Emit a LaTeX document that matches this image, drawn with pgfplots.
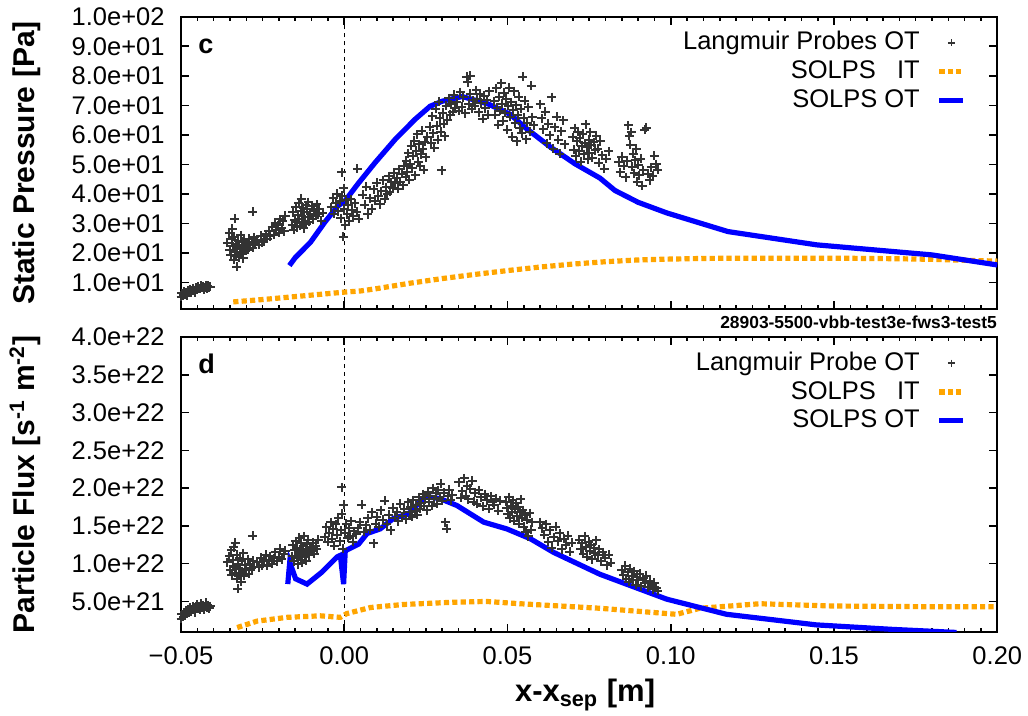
\documentclass[border=0pt]{standalone}
\usepackage{fontspec}
\setmainfont{Liberation Sans}
\usepackage{pgfplots}
\pgfplotsset{compat=1.18}
\definecolor{ptgray}{RGB}{51,51,51}
\definecolor{solblue}{RGB}{0,0,255}
\definecolor{solorange}{RGB}{255,165,0}
\pgfkeys{/pgfplots/linelegend/.style={legend image code/.code={\draw[##1] (0pt,0pt) -- (12pt,0pt);}}}
\pgfkeys{/pgfplots/marklegend/.style={legend image code/.code={\draw[##1,mark size=1.75pt,line width=0.8pt] plot coordinates {(6pt,0pt)};}}}
\pgfplotsset{
 panel/.style={
  scale only axis, width=408.15pt,
  xmin=-0.05, xmax=0.2,
  xtick={-0.05,0,0.05,0.1,0.15,0.2},
  minor x tick num=9,
  tick align=inside,
  major tick length=4pt, minor tick length=2pt,
  tick style={black, line width=0.8pt},
  axis line style={line width=1pt},
  ticklabel style={font=\fontsize{12.75}{14}\selectfont},
  yticklabel style={anchor=east, inner sep=0pt, xshift=-8pt},
  ylabel style={font=\bfseries\fontsize{15}{17}\selectfont, at={(axis description cs:-0.163,0.5)}, anchor=south},
  legend cell align=right,
  legend plot pos=right,
  legend style={at={(1,1)}, anchor=north east, xshift=-15.65pt, yshift=-7.1pt,
    draw=none, fill=none, inner sep=0pt, outer sep=0pt,
    font=\fontsize{12.75}{14}\selectfont,
    nodes={inner sep=0pt, text height=9.5pt, text depth=2.5pt},
    row sep=2.4pt, column sep=8.5pt},
 },
 pts/.style={only marks, mark=+, ptgray, mark size=2.25pt, line width=1pt, marklegend},
 solit/.style={solorange, line width=2.6pt, dash pattern=on 2.6pt off 1.6pt, linelegend},
 solot/.style={solblue, line width=2.6pt, linelegend},
 zline/.style={forget plot, black, line width=0.4pt, dash pattern=on 2pt off 2pt},
}
\begin{document}
\begin{tikzpicture}
\path[use as bounding box] (0,0) rectangle (514pt,358pt);
% ---------------- top panel ----------------
\begin{axis}[panel, name=top, at={(90.5pt,203.35pt)}, anchor=south west, height=146.3pt,
  ymin=1, ymax=100,
  ytick={10,20,30,40,50,60,70,80,90,100},
  yticklabels={1.0e+01,2.0e+01,3.0e+01,4.0e+01,5.0e+01,6.0e+01,7.0e+01,8.0e+01,9.0e+01,1.0e+02},
  xticklabels={},
  ylabel={Static Pressure {[}Pa{]}}]
\addplot[zline] coordinates {(0,1)(0,100)};
\addplot[pts] coordinates {
(-0.0500,5.2)(-0.0497,6.5)(-0.0493,5.8)(-0.0490,7.0)(-0.0487,6.1)(-0.0484,6.8)(-0.0481,5.6)(-0.0478,7.4)(-0.0475,6.6)(-0.0472,7.8)(-0.0469,6.9)(-0.0466,7.2)(-0.0463,8.1)(-0.0460,7.5)(-0.0457,6.8)(-0.0454,8.3)(-0.0451,7.7)(-0.0448,8.6)(-0.0445,7.9)(-0.0442,8.2)(-0.0439,9.0)(-0.0436,8.4)(-0.0433,8.8)(-0.0430,7.8)(-0.0427,8.5)(-0.0424,9.2)(-0.0421,8.1)(-0.0418,8.9)(-0.0414,8.4)(-0.0410,8.7)
(-0.0358,23.5)(-0.0352,26.8)(-0.0350,21.0)(-0.0347,19.5)(-0.0345,24.8)(-0.0343,28.2)(-0.0341,22.4)(-0.0339,17.8)(-0.0337,25.6)(-0.0335,20.3)(-0.0333,23.1)(-0.0331,19.0)(-0.0329,15.4)(-0.0327,21.8)(-0.0325,24.2)(-0.0323,18.6)(-0.0321,22.9)(-0.0319,20.1)(-0.0317,26.0)(-0.0315,19.7)(-0.0313,23.8)(-0.0311,21.5)(-0.0309,18.3)(-0.0307,24.6)(-0.0305,22.0)(-0.0302,20.8)(-0.0299,23.4)(-0.0296,21.2)(-0.0292,24.9)(-0.0288,22.6)(-0.0284,23.9)(-0.0280,21.9)(-0.0276,25.3)(-0.0272,23.5)(-0.0336,31.6)(-0.0281,34.0)
(-0.0266,24.5)(-0.0261,22.8)(-0.0256,25.9)(-0.0251,23.6)(-0.0246,24.1)(-0.0241,26.4)(-0.0236,24.8)(-0.0231,27.5)(-0.0226,25.7)(-0.0221,28.9)(-0.0216,26.3)(-0.0212,30.2)(-0.0208,27.8)(-0.0204,29.4)(-0.0200,26.9)(-0.0196,31.5)(-0.0192,28.6)(-0.0188,30.8)(-0.0184,27.4)(-0.0180,32.6)
(-0.0160,29.5)(-0.0157,33.8)(-0.0154,27.9)(-0.0151,31.2)(-0.0148,35.6)(-0.0146,30.4)(-0.0144,28.7)(-0.0142,33.0)(-0.0140,36.9)(-0.0138,31.7)(-0.0136,29.2)(-0.0134,34.4)(-0.0132,38.4)(-0.0130,32.5)(-0.0128,30.1)(-0.0126,35.3)(-0.0124,28.4)(-0.0122,33.9)(-0.0120,31.0)(-0.0118,36.2)(-0.0116,29.8)(-0.0114,34.8)(-0.0112,32.2)(-0.0110,37.3)(-0.0107,30.6)(-0.0104,33.4)(-0.0100,35.8)(-0.0096,31.5)(-0.0092,34.1)(-0.0088,32.7)(-0.0084,36.5)(-0.0080,33.2)(-0.0076,35.0)(-0.0071,30.9)(-0.0066,33.7)
(-0.0040,35.5)(-0.0034,38.7)(-0.0030,33.4)(-0.0026,36.8)(-0.0022,40.1)(-0.0018,34.2)(-0.0014,37.6)(-0.0010,31.8)(-0.0006,39.4)(-0.0003,25.6)(-0.0002,42.0)(0.0000,35.0)(0.0003,29.5)(0.0006,37.9)(0.0009,33.1)(0.0012,36.3)(0.0016,31.0)(0.0020,38.2)(0.0024,34.6)(0.0028,32.4)(0.0032,36.9)(0.0038,34.0)(0.0044,31.6)(-0.0008,47.3)(0.0040,48.5)
(0.0056,39.8)(0.0062,36.4)(0.0068,42.5)(0.0072,33.1)(0.0078,38.6)(0.0084,35.0)(0.0090,41.7)(0.0094,37.8)(0.0100,43.9)(0.0104,39.2)(0.0110,36.5)(0.0114,41.0)(0.0120,44.7)(0.0124,38.4)(0.0128,42.3)(0.0132,39.9)(0.0136,46.1)(0.0140,40.8)(0.0144,44.0)(0.0148,42.1)(0.0152,47.2)(0.0156,43.6)(0.0160,45.5)(0.0164,41.8)(0.0168,48.4)(0.0172,44.2)(0.0176,46.8)(0.0180,43.0)(0.0184,49.6)(0.0188,45.9)
(0.0190,51.3)(0.0193,47.5)(0.0196,53.8)(0.0199,44.9)(0.0202,50.2)(0.0205,56.4)(0.0208,48.7)(0.0211,52.9)(0.0214,58.1)(0.0217,46.3)(0.0220,54.6)(0.0223,60.2)(0.0226,51.0)(0.0229,56.9)(0.0232,49.4)(0.0235,53.5)(0.0238,61.4)(0.0241,55.2)(0.0244,48.2)(0.0247,57.7)(0.0250,52.4)(0.0254,59.3)
(0.0262,62.8)(0.0266,57.3)(0.0270,66.4)(0.0273,60.5)(0.0276,55.6)(0.0280,68.9)(0.0283,63.1)(0.0286,58.4)(0.0289,71.2)(0.0292,65.7)(0.0295,61.0)(0.0298,48.0)(0.0301,67.5)(0.0304,63.8)(0.0308,59.6)(0.0312,69.8)(0.0316,65.0)(0.0320,72.4)(0.0324,66.9)(0.0328,70.3)(0.0332,67.8)(0.0336,73.6)(0.0340,69.1)
(0.0345,71.0)(0.0350,68.2)(0.0355,74.5)(0.0360,69.6)(0.0365,72.8)(0.0370,67.4)(0.0375,79.6)(0.0378,77.8)(0.0382,70.5)(0.0386,73.9)(0.0390,68.8)(0.0395,71.7)(0.0400,69.9)(0.0404,75.2)(0.0408,72.1)(0.0412,67.6)(0.0416,74.0)(0.0420,70.8)(0.0424,65.4)(0.0428,73.3)(0.0432,69.0)(0.0436,71.9)(0.0440,66.8)(0.0444,74.7)(0.0386,80.0)
(0.0460,71.4)(0.0463,66.9)(0.0466,75.8)(0.0469,69.2)(0.0472,63.5)(0.0475,73.0)(0.0478,68.1)(0.0481,77.4)(0.0484,70.6)(0.0487,64.8)(0.0490,74.3)(0.0493,67.5)(0.0496,72.2)(0.0499,61.7)(0.0502,69.8)(0.0505,75.9)(0.0508,66.2)(0.0511,71.0)(0.0514,59.4)(0.0517,68.4)(0.0520,74.8)(0.0523,63.9)(0.0526,70.1)(0.0529,57.8)(0.0532,66.6)(0.0535,72.9)(0.0538,62.3)(0.0541,68.9)(0.0544,60.5)(0.0547,79.7)(0.0550,65.8)(0.0553,71.5)(0.0557,58.6)(0.0560,64.2)(0.0564,69.4)(0.0568,61.1)(0.0572,76.6)(0.0576,66.0)(0.0580,63.2)
(0.0600,70.4)(0.0605,65.6)(0.0610,61.9)(0.0615,67.8)(0.0620,57.2)(0.0625,63.7)(0.0630,59.9)(0.0635,72.8)(0.0640,55.4)(0.0645,62.6)(0.0650,66.1)(0.0655,58.3)(0.0660,53.6)(0.0665,61.2)(0.0670,64.9)(0.0675,56.8)
(0.0700,59.2)(0.0703,55.0)(0.0706,62.3)(0.0709,52.7)(0.0712,57.9)(0.0715,61.0)(0.0718,54.6)(0.0721,58.8)(0.0724,50.9)(0.0727,56.3)(0.0730,60.4)(0.0733,53.5)(0.0736,57.1)(0.0739,63.6)(0.0742,55.8)(0.0745,51.8)(0.0748,58.4)(0.0751,54.0)(0.0754,60.9)(0.0757,56.7)(0.0760,52.3)(0.0764,57.5)(0.0768,54.8)(0.0772,59.7)(0.0776,55.3)(0.0780,50.6)(0.0784,57.8)(0.0790,53.1)(0.0796,48.6)(0.0803,51.9)(0.0810,54.4)
(0.0840,50.8)(0.0845,47.4)(0.0850,52.6)(0.0856,49.5)(0.0862,45.7)(0.0866,51.2)(0.0870,63.2)(0.0873,59.8)(0.0876,56.6)(0.0879,60.9)(0.0882,49.3)(0.0885,53.7)(0.0888,47.0)(0.0891,51.5)(0.0894,55.3)(0.0897,44.2)(0.0900,49.9)(0.0904,46.4)(0.0908,52.0)(0.0912,42.8)(0.0916,48.1)(0.0920,61.7)(0.0925,62.5)(0.0930,46.9)(0.0935,44.6)(0.0940,49.0)(0.0945,46.2)(0.0950,52.9)(0.0955,50.1)(0.0960,48.3)
};
\addlegendentry{Langmuir Probes OT}
\addplot[solit] coordinates {
(-0.0340,3.5)(-0.025,4.3)(-0.015,5.3)(-0.005,6.3)(0.000,6.8)(0.005,7.2)(0.010,8.0)(0.020,9.8)(0.030,11.4)(0.040,12.8)(0.050,14.1)(0.060,15.3)(0.070,16.3)(0.080,17.1)(0.090,17.7)(0.100,18.0)(0.110,18.2)(0.120,18.3)(0.130,18.3)(0.140,18.3)(0.150,18.3)(0.160,18.2)(0.170,18.1)(0.180,17.9)(0.190,17.6)(0.200,17.3)
};
\addlegendentry{SOLPS\ \ \ IT}
\addplot[solot] coordinates {
(-0.0168,15.8)(-0.0150,18.5)(-0.0104,23.6)(-0.0058,30.7)(-0.0021,35.8)(0.0003,37.8)(0.0043,43.6)(0.0095,50.7)(0.0156,58.5)(0.0217,65.3)(0.0263,69.7)(0.0300,71.4)(0.0361,73.0)(0.0440,70.5)(0.0508,67.0)(0.0554,62.5)(0.0630,56.0)(0.0707,50.2)(0.0783,45.4)(0.0829,41.2)(0.0900,37.2)(0.0988,33.6)(0.1175,27.3)(0.1447,22.8)(0.1800,19.4)(0.2000,16.0)
};
\addlegendentry{SOLPS OT}
\end{axis}
% ---------------- bottom panel ----------------
\begin{axis}[panel, name=bot, at={(90.5pt,42.15pt)}, anchor=south west, height=147.35pt,
  ymin=0.1, ymax=4,
  ytick={0.5,1,1.5,2,2.5,3,3.5,4},
  yticklabels={5.0e+21,1.0e+22,1.5e+22,2.0e+22,2.5e+22,3.0e+22,3.5e+22,4.0e+22},
  xticklabels={−0.05,0.00,0.05,0.10,0.15,0.20},
  xticklabel style={anchor=base, yshift=-16.5pt},
  xlabel={x-x\textsubscript{sep} {[}m{]}},
  xlabel style={font=\bfseries\fontsize{15.5}{17}\selectfont, at={(axis description cs:0.495,0)}, anchor=base, yshift=-35.15pt},
  ylabel={Particle Flux {[}s\textsuperscript{-1} m\textsuperscript{-2}{]}}]
\addplot[zline] coordinates {(0,0.1)(0,4)};
\addplot[pts] coordinates {
(-0.0500,0.27)(-0.0497,0.33)(-0.0493,0.30)(-0.0490,0.36)(-0.0487,0.31)(-0.0484,0.38)(-0.0481,0.34)(-0.0478,0.40)(-0.0475,0.35)(-0.0472,0.42)(-0.0469,0.37)(-0.0466,0.39)(-0.0463,0.44)(-0.0460,0.40)(-0.0457,0.36)(-0.0454,0.43)(-0.0451,0.46)(-0.0448,0.41)(-0.0445,0.44)(-0.0442,0.39)(-0.0439,0.47)(-0.0436,0.42)(-0.0433,0.45)(-0.0430,0.40)(-0.0427,0.44)(-0.0424,0.48)(-0.0421,0.42)(-0.0418,0.45)(-0.0414,0.41)(-0.0410,0.44)
(-0.0358,1.02)(-0.0352,1.10)(-0.0349,0.92)(-0.0346,1.18)(-0.0344,0.85)(-0.0342,1.05)(-0.0340,0.97)(-0.0338,1.22)(-0.0336,0.88)(-0.0334,1.28)(-0.0332,0.95)(-0.0330,1.12)(-0.0328,0.80)(-0.0326,0.67)(-0.0324,1.00)(-0.0322,0.86)(-0.0320,1.08)(-0.0318,0.93)(-0.0316,0.76)(-0.0314,1.03)(-0.0312,0.90)(-0.0310,1.14)(-0.0307,0.84)(-0.0304,0.98)(-0.0300,0.91)(-0.0296,1.06)(-0.0292,0.87)(-0.0288,0.99)(-0.0284,0.94)(-0.0280,1.04)(-0.0276,0.96)(-0.0281,1.37)
(-0.0266,1.02)(-0.0261,0.95)(-0.0256,1.08)(-0.0251,0.98)(-0.0246,1.05)(-0.0241,1.12)(-0.0236,0.97)(-0.0231,1.04)(-0.0226,1.10)(-0.0221,1.00)(-0.0216,1.07)(-0.0211,1.15)(-0.0206,1.03)(-0.0201,1.09)(-0.0196,1.20)(-0.0191,1.06)(-0.0186,1.13)(-0.0181,1.17)
(-0.0160,1.10)(-0.0157,1.25)(-0.0154,1.03)(-0.0151,1.18)(-0.0148,1.30)(-0.0146,1.08)(-0.0144,1.21)(-0.0142,0.99)(-0.0140,1.15)(-0.0138,1.34)(-0.0136,1.12)(-0.0134,1.05)(-0.0132,1.27)(-0.0130,1.19)(-0.0128,1.01)(-0.0126,1.23)(-0.0124,1.14)(-0.0122,1.36)(-0.0120,1.09)(-0.0118,1.20)(-0.0116,1.04)(-0.0114,1.26)(-0.0112,1.16)(-0.0110,1.31)(-0.0107,1.11)(-0.0104,1.22)(-0.0100,1.17)(-0.0096,1.28)(-0.0092,1.13)(-0.0088,1.24)(-0.0084,1.19)(-0.0080,1.32)
(-0.0060,1.35)(-0.0055,1.48)(-0.0050,1.29)(-0.0046,1.41)(-0.0042,1.55)(-0.0038,1.33)(-0.0034,1.46)(-0.0030,1.24)(-0.0026,1.52)(-0.0022,1.38)(-0.0018,1.60)(-0.0014,1.30)(-0.0010,1.44)(-0.0007,1.66)(-0.0004,1.20)(-0.0002,1.78)(-0.0008,2.01)(0.0002,1.40)(0.0006,1.53)(0.0010,1.34)(0.0014,1.47)(0.0018,1.37)(0.0022,1.56)(0.0026,1.29)(0.0030,1.43)(0.0036,1.39)
(0.0042,1.47)(0.0048,1.55)(0.0054,1.78)(0.0060,1.42)(0.0066,1.51)(0.0072,1.60)(0.0078,1.45)(0.0084,1.68)(0.0090,1.27)(0.0096,1.53)(0.0100,1.62)(0.0106,1.49)(0.0112,1.71)(0.0118,1.58)(0.0124,1.83)(0.0130,1.52)(0.0136,1.65)(0.0142,1.44)(0.0148,1.74)(0.0154,1.61)(0.0160,1.69)(0.0166,1.56)(0.0172,1.79)(0.0178,1.63)(0.0184,1.72)(0.0190,1.59)(0.0196,1.81)
(0.0200,1.68)(0.0204,1.75)(0.0208,1.62)(0.0212,1.84)(0.0216,1.70)(0.0220,1.78)(0.0224,1.65)(0.0228,1.88)(0.0232,1.73)(0.0236,1.80)(0.0240,1.92)(0.0244,1.76)(0.0248,1.86)(0.0252,1.71)(0.0256,1.95)(0.0260,1.82)(0.0264,1.90)(0.0268,1.77)(0.0272,2.00)(0.0276,1.85)(0.0280,1.93)(0.0284,1.79)(0.0288,1.97)(0.0292,1.87)(0.0296,2.06)(0.0300,1.83)(0.0305,1.94)(0.0310,1.55)(0.0314,1.46)(0.0318,1.89)(0.0322,1.98)(0.0326,1.84)(0.0330,1.91)
(0.0350,2.08)(0.0356,1.87)(0.0362,1.96)(0.0368,2.13)(0.0372,1.90)(0.0376,2.03)(0.0380,1.85)(0.0386,1.99)(0.0392,2.10)(0.0396,1.82)(0.0400,1.94)(0.0406,1.79)(0.0412,1.97)(0.0418,1.88)(0.0424,1.76)(0.0430,1.92)(0.0436,1.84)(0.0442,1.73)(0.0448,1.89)(0.0454,1.81)(0.0460,1.78)(0.0466,1.86)(0.0472,1.70)(0.0478,1.83)
(0.0495,1.82)(0.0498,1.74)(0.0501,1.66)(0.0504,1.88)(0.0507,1.60)(0.0510,1.77)(0.0513,1.69)(0.0516,1.84)(0.0519,1.57)(0.0522,1.72)(0.0525,1.80)(0.0528,1.63)(0.0531,1.75)(0.0534,1.53)(0.0537,1.68)(0.0540,1.85)(0.0543,1.61)(0.0546,1.71)(0.0549,1.49)(0.0552,1.64)(0.0556,1.42)(0.0560,1.58)(0.0564,1.36)(0.0568,1.67)(0.0572,1.45)(0.0576,1.55)
(0.0600,1.55)(0.0606,1.47)(0.0612,1.38)(0.0618,1.52)(0.0624,1.29)(0.0630,1.44)(0.0636,1.21)(0.0642,1.35)(0.0648,1.49)(0.0654,1.30)(0.0660,1.40)(0.0666,1.19)(0.0672,1.33)(0.0678,1.25)(0.0684,1.37)(0.0690,1.16)(0.0696,1.28)
(0.0720,1.32)(0.0724,1.20)(0.0728,1.27)(0.0732,1.13)(0.0736,1.36)(0.0740,1.22)(0.0744,1.09)(0.0748,1.29)(0.0752,1.17)(0.0756,1.25)(0.0760,1.06)(0.0764,1.21)(0.0768,1.14)(0.0772,1.31)(0.0776,1.11)(0.0780,1.19)(0.0786,1.03)(0.0792,1.15)(0.0798,1.08)(0.0804,0.98)(0.0810,1.12)(0.0816,1.01)
(0.0850,0.92)(0.0855,0.85)(0.0860,0.97)(0.0864,0.80)(0.0868,0.89)(0.0872,0.76)(0.0876,0.93)(0.0880,0.84)(0.0884,0.79)(0.0888,0.90)(0.0892,0.72)(0.0896,0.83)(0.0900,0.78)(0.0905,0.87)(0.0910,0.70)(0.0915,0.81)(0.0920,0.74)(0.0925,0.84)(0.0930,0.69)(0.0935,0.77)(0.0940,0.72)(0.0945,0.66)(0.0950,0.75)(0.0955,0.68)(0.0960,0.64)
};
\addlegendentry{Langmuir Probe OT}
\addplot[solit] coordinates {
(-0.0328,0.155)(-0.0267,0.24)(-0.0175,0.29)(-0.0073,0.31)(-0.0012,0.29)(0.0008,0.34)(0.0080,0.42)(0.0181,0.46)(0.0334,0.49)(0.0436,0.50)(0.0539,0.47)(0.0783,0.41)(0.0988,0.34)(0.1018,0.33)(0.1089,0.41)(0.1273,0.47)(0.1497,0.44)(0.1803,0.43)(0.1997,0.43)
};
\addlegendentry{SOLPS\ \ \ IT}
\addplot[solot] coordinates {
(-0.0173,0.73)(-0.0167,1.02)(-0.0149,0.80)(-0.0114,0.73)(-0.0068,0.89)(-0.0022,1.09)(-0.0012,1.11)(-0.0002,0.73)(0.0003,1.17)(0.0044,1.26)(0.0070,1.40)(0.0110,1.46)(0.0151,1.60)(0.0197,1.66)(0.0248,1.89)(0.0294,1.86)(0.0345,1.77)(0.0427,1.55)(0.0498,1.46)(0.0570,1.33)(0.0641,1.15)(0.0783,0.86)(0.0988,0.53)(0.1171,0.33)(0.1446,0.19)(0.1681,0.13)(0.1875,0.09)
};
\addlegendentry{SOLPS OT}
\end{axis}
\node[anchor=base west, inner sep=0pt, xshift=8.5pt, yshift=-18.2pt, font=\bfseries\fontsize{13.5}{15}\selectfont] at (top.north west) {c};
\node[anchor=base west, inner sep=0pt, xshift=8.5pt, yshift=-18.2pt, font=\bfseries\fontsize{13.5}{15}\selectfont] at (bot.north west) {d};
\node[anchor=base east, inner sep=0pt, yshift=-9.85pt, font=\bfseries\fontsize{8.7}{10}\selectfont] at (top.south east) {28903-5500-vbb-test3e-fws3-test5};
\end{tikzpicture}
\end{document}
